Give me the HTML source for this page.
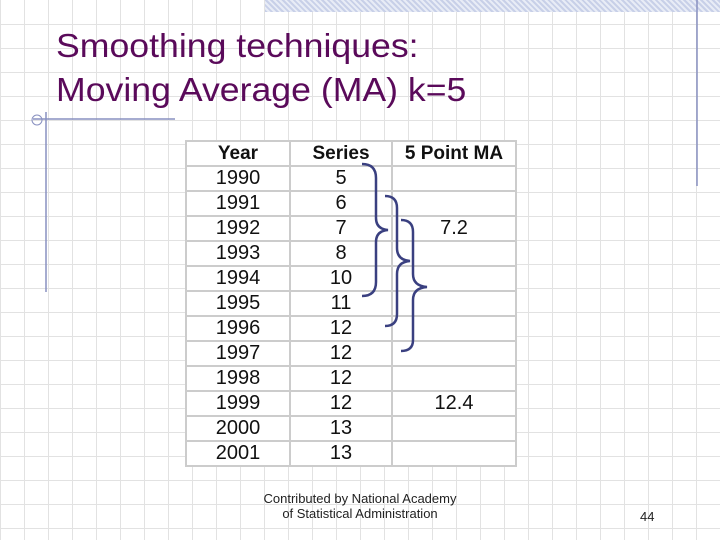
<!DOCTYPE html>
<html><head><meta charset="utf-8"><style>
body{margin:0;width:720px;height:540px;overflow:hidden;background:#fff;font-family:"Liberation Sans",sans-serif;position:relative}
.grid{position:absolute;left:0;top:0;width:720px;height:540px;
background-image:repeating-linear-gradient(90deg,transparent 0 23px,#e2e2e2 23px 24px),repeating-linear-gradient(0deg,transparent 0 23px,#e2e2e2 23px 24px);background-position:1px 0,0 12px}
.t{position:absolute;color:#5a0a5a;font-size:33px;left:56px;white-space:nowrap;transform:scaleX(1.08);transform-origin:0 0}
table{position:absolute;left:185px;top:140px;border-collapse:collapse;background:#fff;table-layout:fixed}
tr{height:25px}
td{border:2px solid #ccc;padding:0;text-align:center;font-size:20px;color:#111;line-height:21px}
th{border:2px solid #ccc;padding:0;font-size:19px;font-weight:bold;color:#111;line-height:21px}
.foot{position:absolute;font-size:13px;color:#222;text-align:center}
</style></head><body>
<div class="grid"></div>
<div style="position:absolute;left:265px;top:0;width:455px;height:12px;background:repeating-linear-gradient(45deg,#c8d0e8 0 2px,#e8ecf6 2px 4px)"></div>
<svg width="720" height="540" style="position:absolute;left:0;top:0">
<line x1="697" y1="0" x2="697" y2="186" stroke="#8890c0" stroke-width="1.5"/>
<line x1="46" y1="112" x2="46" y2="292" stroke="#8890c0" stroke-width="1.5"/>
<line x1="33" y1="119" x2="175" y2="119" stroke="#8890c0" stroke-width="1.5"/>
<circle cx="37" cy="120" r="5" fill="none" stroke="#8890c0"/>
</svg>
<div class="t" style="top:27px">Smoothing techniques:</div>
<div class="t" style="top:71px">Moving Average (MA) k=5</div>
<table>
<colgroup><col style="width:104px"><col style="width:102px"><col style="width:124px"></colgroup>
<tr><th>Year</th><th>Series</th><th>5 Point MA</th></tr>
<tr><td>1990</td><td>5</td><td></td></tr>
<tr><td>1991</td><td>6</td><td></td></tr>
<tr><td>1992</td><td>7</td><td>7.2</td></tr>
<tr><td>1993</td><td>8</td><td></td></tr>
<tr><td>1994</td><td>10</td><td></td></tr>
<tr><td>1995</td><td>11</td><td></td></tr>
<tr><td>1996</td><td>12</td><td></td></tr>
<tr><td>1997</td><td>12</td><td></td></tr>
<tr><td>1998</td><td>12</td><td></td></tr>
<tr><td>1999</td><td>12</td><td>12.4</td></tr>
<tr><td>2000</td><td>13</td><td></td></tr>
<tr><td>2001</td><td>13</td><td></td></tr>
</table>
<svg width="720" height="540" style="position:absolute;left:0;top:0" fill="none" stroke="#3a4080" stroke-width="2.5">
<path d="M362 164 Q376 164 376 178 L376 218 Q376 229 388 230 Q376 231 376 242 L376 282 Q376 296 362 296"/>
<path d="M385 196 Q397 196 397 208 L397 248 Q397 260 410 261 Q397 262 397 274 L397 314 Q397 326 385 326"/>
<path d="M401 220 Q413 220 413 232 L413 274 Q413 286 427 287 Q413 288 413 300 L413 340 Q413 351 401 351"/>
</svg>
<div class="foot" style="left:240px;top:491px;width:240px">Contributed by National Academy<br>of Statistical Administration</div>
<div class="foot" style="left:640px;top:509px">44</div>
</body></html>
